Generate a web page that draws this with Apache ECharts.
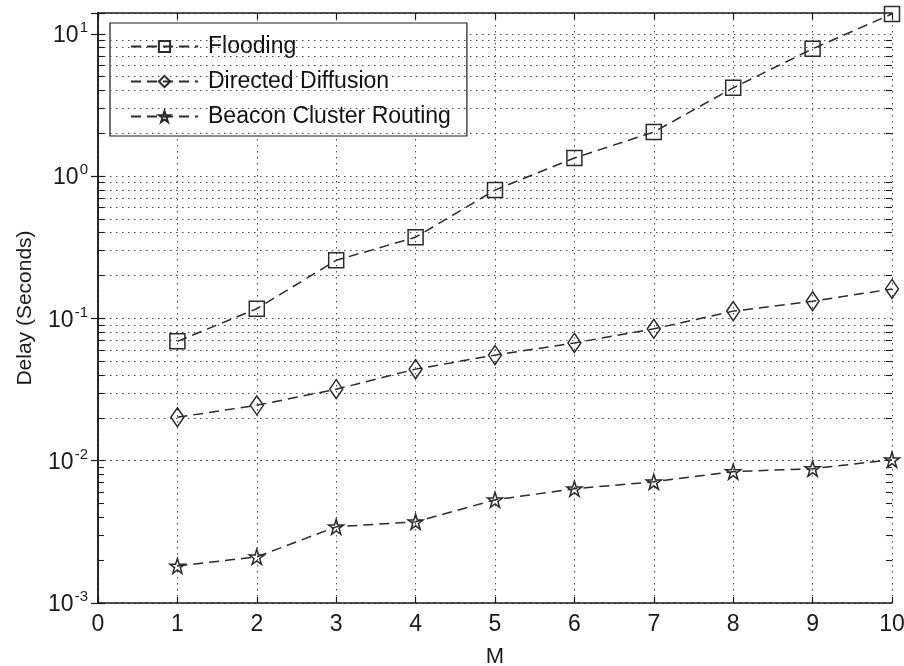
<!DOCTYPE html>
<html>
<head>
<meta charset="utf-8">
<script src="https://cdn.jsdelivr.net/npm/echarts@6/dist/echarts.min.js"></script>
<style>html,body{margin:0;padding:0;background:#fff;}#c{width:904px;height:666px;}</style>
</head>
<body>
<div id="c"></div>
<script>
var M = [1, 2, 3, 4, 5, 6, 7, 8, 9, 10];
var flooding = [0.069, 0.117, 0.256, 0.372, 0.797, 1.34, 2.04, 4.17, 7.84, 13.8];
var directed = [0.0202, 0.0245, 0.0318, 0.0440, 0.0552, 0.0672, 0.0845, 0.1125, 0.132, 0.161];
var beacon = [0.00182, 0.00211, 0.00343, 0.00372, 0.00531, 0.00635, 0.00711, 0.00837, 0.00879, 0.01016];
var seriesNames = ['Flooding', 'Directed Diffusion', 'Beacon Cluster Routing'];
var xLabel = 'M';
var yLabel = 'Delay (Seconds)';
var decades = [-3, -2, -1, 0, 1];
var yMin = 0.001, yMax = 14;

var FONT = "'Liberation Sans', Arial, Helvetica, sans-serif";
var INK = '#1a1a1a';
var LINE = '#2a2a2a';
var GRIDC = '#4a4a4a';

var minorVals = [];
decades.forEach(function (d) {
  for (var m = 2; m <= 9; m++) {
    var v = m * Math.pow(10, d);
    if (v > yMin && v < yMax) minorVals.push(+v.toPrecision(3));
  }
});

function pairs(arr) { return M.map(function (x, i) { return [x, arr[i]]; }); }

var starPath = 'path://M50,2 L61,36 L97,36 L68,57 L79,92 L50,71 L21,92 L32,57 L3,36 L39,36 Z';

var common = {
  type: 'line',
  lineStyle: { color: LINE, width: 1.5, type: [10, 6] },
  itemStyle: { color: 'rgba(255,255,255,0)', borderColor: LINE, borderWidth: 1.5 },
  emphasis: { disabled: true },
  animation: false
};

var tickLen = 0.075;
var gridDot = { color: GRIDC, type: [1.5, 4.5], width: 1.1 };
var minorGridLines = minorVals.map(function (v) { return { yAxis: v }; });
var minorTicks = [];
minorVals.forEach(function (v) {
  minorTicks.push([{ coord: [0, v] }, { coord: [tickLen, v] }]);
  minorTicks.push([{ coord: [10 - tickLen, v] }, { coord: [10, v] }]);
});

var chart = echarts.init(document.getElementById('c'), null, { renderer: 'canvas' });
chart.setOption({
  backgroundColor: '#fff',
  animation: false,
  textStyle: { fontFamily: FONT },
  grid: { left: 98, top: 13, right: 12, bottom: 63, containLabel: false, outerBoundsMode: 'none' },
  legend: {
    orient: 'vertical',
    left: 110, top: 23,
    data: seriesNames,
    backgroundColor: '#fff',
    borderColor: INK, borderWidth: 1.2,
    padding: [12, 16, 8, 20],
    itemGap: 12,
    itemWidth: 67, itemHeight: 14,
    textStyle: { fontFamily: FONT, fontSize: 23, color: '#111', padding: [0, 0, 0, 5] },
    selectedMode: false
  },
  xAxis: [{
    type: 'value', min: 0, max: 10, interval: 1,
    name: xLabel, nameLocation: 'middle', nameGap: 43,
    nameTextStyle: { fontFamily: FONT, fontSize: 22, color: INK },
    axisLine: { onZero: false, lineStyle: { color: INK, width: 1.5 } },
    axisTick: { inside: true, length: 6, lineStyle: { color: INK, width: 1.2 } },
    axisLabel: { fontFamily: FONT, fontSize: 23, color: INK, margin: 10 },
    splitLine: { show: true, lineStyle: gridDot }
  }, {
    type: 'value', min: 0, max: 10, interval: 1, position: 'top',
    axisLine: { onZero: false, lineStyle: { color: INK, width: 1.5 } },
    axisTick: { inside: true, length: 6, lineStyle: { color: INK, width: 1.2 } },
    axisLabel: { show: false }, splitLine: { show: false }
  }],
  yAxis: [{
    type: 'log', logBase: 10, min: yMin, max: yMax, interval: 1,
    name: yLabel, nameLocation: 'middle', nameGap: 62, nameRotate: 90,
    nameTextStyle: { fontFamily: FONT, fontSize: 21, color: INK },
    axisLine: { lineStyle: { color: INK, width: 1.5 } },
    axisTick: { inside: true, length: 7, lineStyle: { color: INK, width: 1.2 } },
    axisLabel: {
      margin: 10, showMaxLabel: true,
      formatter: function (v) {
        var e = Math.log(v) / Math.LN10;
        var r = Math.round(e);
        if (Math.abs(e - r) > 1e-6) return '';
        return '{b|10}{s|' + r + '}';
      },
      rich: {
        b: { fontFamily: FONT, fontSize: 23, color: INK, verticalAlign: 'bottom', lineHeight: 27 },
        s: { fontFamily: FONT, fontSize: 15, color: INK, verticalAlign: 'top', lineHeight: 27, padding: [0, 0, 0, 1] }
      }
    },
    splitLine: { show: true, lineStyle: gridDot }
  }, {
    type: 'log', logBase: 10, min: yMin, max: yMax, interval: 1, position: 'right',
    axisLine: { lineStyle: { color: INK, width: 1.5 } },
    axisTick: { inside: true, length: 7, lineStyle: { color: INK, width: 1.2 } },
    axisLabel: { show: false }, splitLine: { show: false }
  }],
  series: [
    {
      name: '_minor', type: 'line', data: [], silent: true, xAxisIndex: 0, yAxisIndex: 0,
      markLine: {
        silent: true, symbol: ['none', 'none'], label: { show: false }, animation: false,
        lineStyle: gridDot,
        data: minorGridLines
      }
    },
    {
      name: '_minorTicks', type: 'line', data: [], silent: true, xAxisIndex: 0, yAxisIndex: 0,
      markLine: {
        silent: true, symbol: ['none', 'none'], label: { show: false }, animation: false,
        lineStyle: { color: INK, type: 'solid', width: 1.1 },
        data: minorTicks
      }
    },
    Object.assign({}, common, { name: seriesNames[0], data: pairs(flooding), symbol: 'rect', symbolSize: 15, z: 5 }),
    Object.assign({}, common, { name: seriesNames[1], data: pairs(directed), symbol: 'diamond', symbolSize: [13, 19], z: 5 }),
    Object.assign({}, common, { name: seriesNames[2], data: pairs(beacon), symbol: starPath, symbolSize: 15, z: 5 })
  ]
});
</script>
</body>
</html>
